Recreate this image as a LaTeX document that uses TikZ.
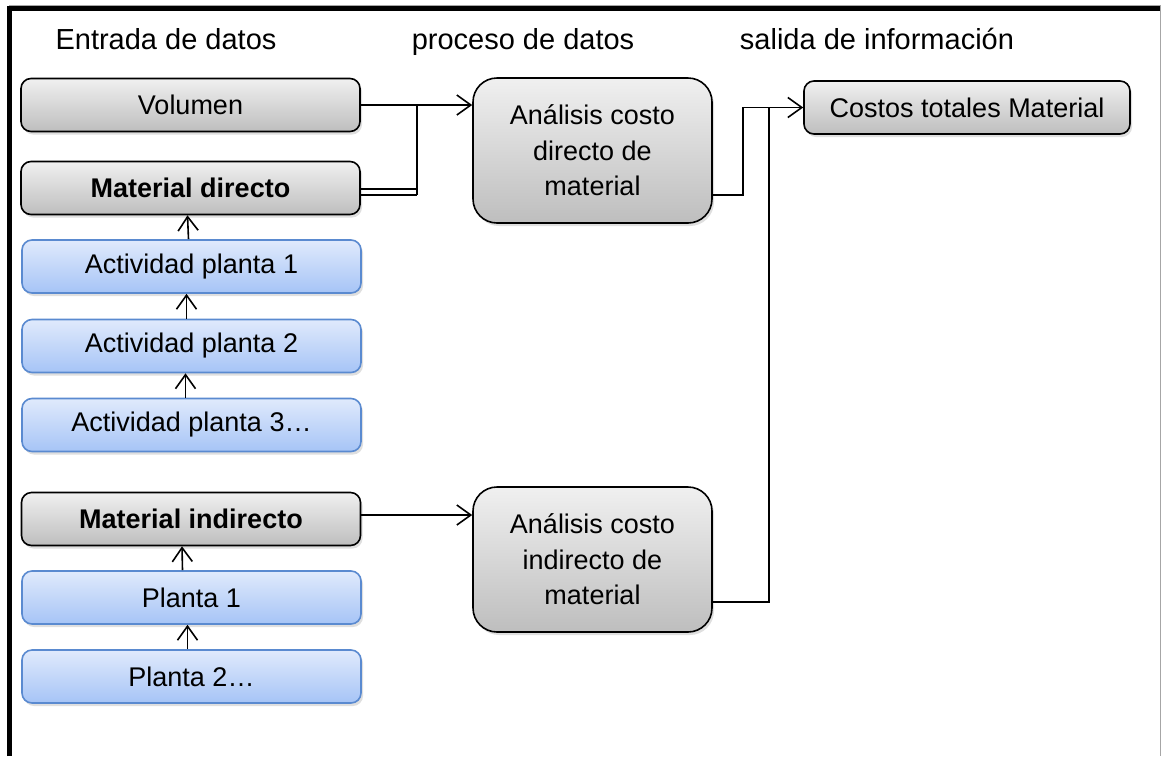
\documentclass[tikz,border=0pt]{standalone}
\usepackage{fontspec}
\setmainfont{Liberation Sans}
\usetikzlibrary{arrows.meta,shadows}
\definecolor{gtop}{HTML}{F0F0F0}
\definecolor{gbot}{HTML}{BEBEBE}
\definecolor{btop}{HTML}{E0EAFC}
\definecolor{bbot}{HTML}{A6C4F6}
\definecolor{bdraw}{HTML}{5A8AD0}
\tikzset{
  every node/.style={font=\fontsize{27}{35.5}\selectfont, inner sep=0pt},
  graybox/.style={draw=black, line width=1.6pt, rounded corners=10pt,
    top color=gtop, bottom color=gbot, minimum width=339pt, minimum height=53pt,
    drop shadow={shadow xshift=2pt, shadow yshift=-3pt, opacity=0.25}},
  bluebox/.style={draw=bdraw, line width=1.6pt, rounded corners=10pt,
    top color=btop, bottom color=bbot, minimum width=339pt, minimum height=53pt,
    drop shadow={shadow xshift=2pt, shadow yshift=-3pt, opacity=0.25}},
  bigbox/.style={graybox, rounded corners=24pt, minimum width=239pt, minimum height=145pt, align=center},
  hdr/.style={font=\fontsize{29}{34}\selectfont, anchor=base},
  ln/.style={line width=1.6pt, draw=black},
  arr/.style={ln, -{Straight Barb[length=14pt,width=20pt,line width=1.6pt]}},
}
\begin{document}
\begin{tikzpicture}[x=1pt,y=-1pt]
\useasboundingbox (0,0) rectangle (1161,756);
\fill[white] (0,0) rectangle (1161,756);
% frame
\draw[gray!70, line width=1pt] (9,5) -- (1160.5,5) -- (1160.5,756);
\draw[black, line width=5pt] (9.5,756) -- (9.5,8.5) -- (1160,8.5);
% headers
\node[hdr] (h1) at (166,49) {Entrada de datos};
\node[hdr] (h2) at (523,49) {proceso de datos};
\node[hdr] (h3) at (877,49) {salida de información};
% left column
\node[graybox] (vol) at (190.5,105) {Volumen};
\node[graybox] (md) at (190.5,188) {\bfseries Material directo};
\node[bluebox] (ap1) at (191.5,266.5) {Actividad planta 1};
\node[bluebox] (ap2) at (191.5,346) {Actividad planta 2};
\node[bluebox] (ap3) at (191.5,425) {Actividad planta 3…};
\node[graybox] (mi) at (191,519) {\bfseries Material indirecto};
\node[bluebox] (p1) at (191.5,597.5) {Planta 1};
\node[bluebox] (p2) at (191.5,676.5) {Planta 2…};
% middle
\node[bigbox] (adir) at (592.5,150.5) {Análisis costo\\directo de\\material};
\node[bigbox] (aind) at (592.5,559.5) {Análisis costo\\indirecto de\\material};
% right
\node[graybox, minimum width=326pt] (ctm) at (967,107.5) {Costos totales Material};
% vertical arrows
\draw[arr] ([xshift=-3pt]ap1.north) -- ([xshift=-3pt]md.south);
\draw[arr] ([xshift=-5pt]ap2.north) -- ([xshift=-5pt]ap1.south);
\draw[arr] ([xshift=-6pt]ap3.north) -- ([xshift=-6pt]ap2.south);
\draw[arr] ([xshift=-9pt]p1.north) -- ([xshift=-9pt]mi.south);
\draw[arr] ([xshift=-4pt]p2.north) -- ([xshift=-4pt]p1.south);
% top-left junction
\coordinate (j1t) at (417,105);
\coordinate (j1b) at (417,195);
\draw[arr] (vol.east) -- (adir.west |- vol.east);
\draw[ln] (j1t) -- (j1b);
\draw[ln] ([yshift=-1pt]md.east) -- ([yshift=-1pt]md.east -| j1t);
\draw[ln] ([yshift=-7pt]md.east) -- (j1b);
% indirect input
\coordinate (mio) at ([yshift=4pt]mi.east);
\draw[arr] (mio) -- (aind.west |- mio);
% outputs
\coordinate (j2) at (743,107.5);
\coordinate (j3) at (769,107.5);
\draw[arr] ([yshift=-44.5pt]adir.east) -| (j2) -- (ctm.west);
\draw[ln] ([yshift=-42.5pt]aind.east) -| (j3);
\end{tikzpicture}
\end{document}
